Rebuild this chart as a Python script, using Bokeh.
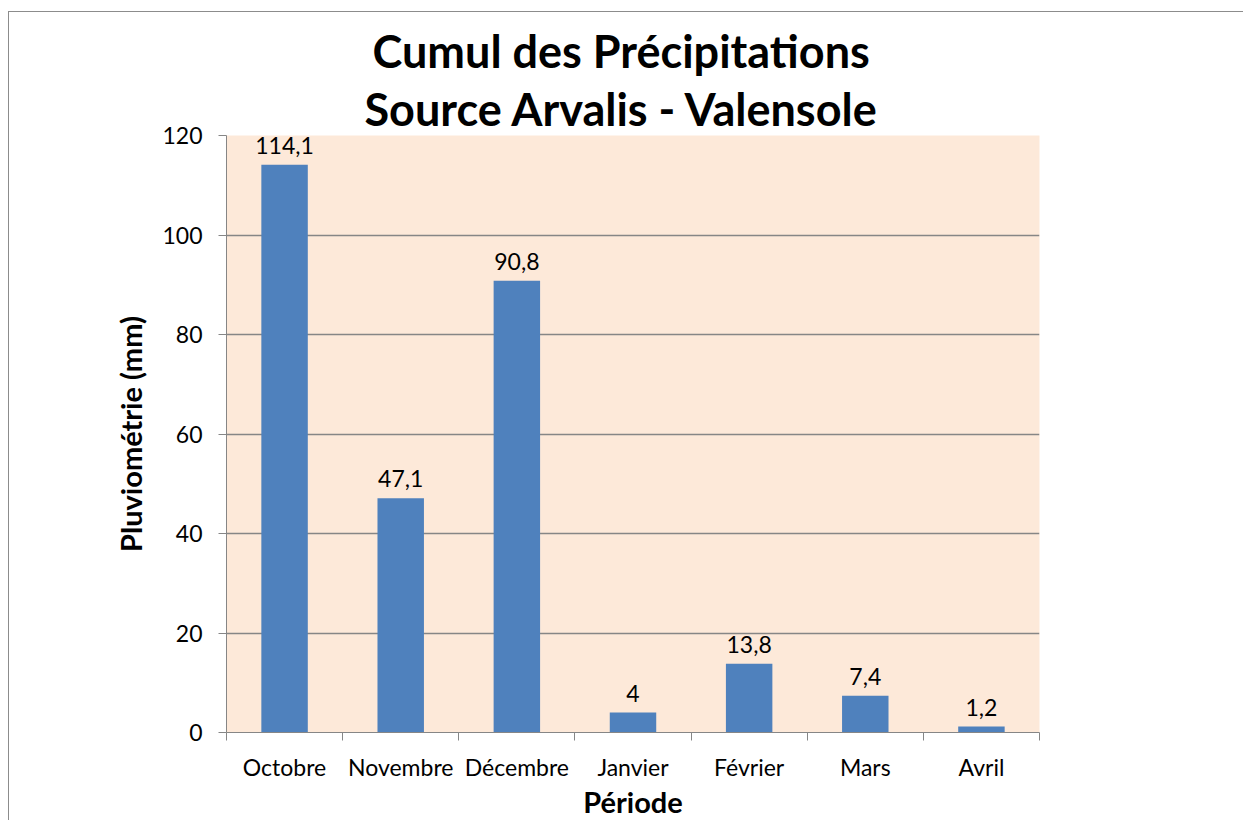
from bokeh.plotting import figure
from bokeh.models import Range1d, FixedTicker, ColumnDataSource, Title
from bokeh.core.properties import value
from bokeh.embed import file_html
from bokeh.resources import INLINE

# ---- data ----
months = ["Octobre", "Novembre", "Décembre", "Janvier", "Février", "Mars", "Avril"]
rain_mm = [114.1, 47.1, 90.8, 4.0, 13.8, 7.4, 1.2]
y_ticks = [0, 20, 40, 60, 80, 100, 120]
title_lines = ["Cumul des Précipitations", "Source Arvalis - Valensole"]

FONT = "Lato"
GRID = "#868686"

xpos = list(range(1, len(months) + 1))
labels = [("%g" % v).replace(".", ",") for v in rain_mm]
src = ColumnDataSource(dict(x=xpos, y=rain_mm, lab=labels))

p = figure(width=1235, height=809, output_backend="svg", toolbar_location=None,
           x_range=Range1d(0.5, len(months) + 0.5), y_range=Range1d(0, 120),
           min_border_left=217, min_border_right=205, min_border_top=123,
           min_border_bottom=88,
           styles={"margin-left": "8px", "margin-top": "11px",
                   "border-top": "1px solid #8c8c8c",
                   "border-left": "1px solid #8c8c8c"})

p.background_fill_color = "#FDE9D9"
p.border_fill_color = "white"
p.outline_line_color = None

# two title lines, each placed like the original (line 2 closest to the plot)
p.title = None
for txt, off, so in ((title_lines[1], 138, 0), (title_lines[0], 146, 3)):
    p.add_layout(Title(text=txt, align="left", offset=off,
                       text_font=FONT, text_font_size="45px",
                       text_font_style="bold", text_color="black",
                       standoff=so), "above")

p.vbar(x="x", top="y", width=0.4, source=src, fill_color="#4F81BD",
       line_color=None)
p.text(x="x", y="y", text="lab", source=src, text_align="center",
       text_baseline="bottom", y_offset=-11, text_font=value(FONT),
       text_font_size="23px", text_color="black")

# y axis
ya = p.yaxis[0]
ya.ticker = FixedTicker(ticks=y_ticks)
ya.axis_line_color = GRID
ya.major_tick_line_color = GRID
ya.major_tick_in = 0
ya.major_tick_out = 8
ya.minor_tick_line_color = None
ya.major_label_text_font = FONT
ya.major_label_text_font_size = "23px"
ya.major_label_text_color = "black"
ya.major_label_standoff = 16
ya.axis_label = "Pluviométrie (mm)"
ya.axis_label_text_font = FONT
ya.axis_label_text_font_size = "29px"
ya.axis_label_text_font_style = "bold"
ya.axis_label_text_color = "black"
ya.axis_label_standoff = 11

# x axis: labels at centres, ticks at boundaries (minor)
xa = p.xaxis[0]
xa.ticker = FixedTicker(ticks=xpos, minor_ticks=[i + 0.5 for i in range(0, len(months) + 1)])
xa.major_label_overrides = {i: m for i, m in zip(xpos, months)}
xa.major_tick_line_color = None
xa.minor_tick_line_color = GRID
xa.minor_tick_in = 0
xa.minor_tick_out = 8
xa.axis_line_color = GRID
xa.major_label_text_font = FONT
xa.major_label_text_font_size = "23px"
xa.major_label_text_color = "black"
xa.major_label_standoff = 12
xa.axis_label = "Période"
xa.axis_label_text_font = FONT
xa.axis_label_text_font_size = "29px"
xa.axis_label_text_font_style = "bold"
xa.axis_label_text_color = "black"
xa.axis_label_standoff = 0

p.xgrid.grid_line_color = None
p.ygrid.grid_line_color = GRID
p.ygrid.grid_line_width = 1.5

open("out.html", "w").write(file_html(p, INLINE))
